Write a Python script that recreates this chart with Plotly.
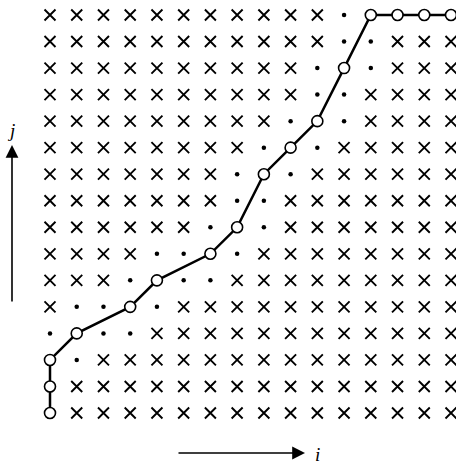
import plotly.graph_objects as go

# Grid size (columns i, rows j)
n_i = 16
n_j = 16

# Warping path (i, j)
path_i = [1, 1, 1, 2, 4, 5, 7, 8, 9, 10, 11, 12, 13, 14, 15, 16]
path_j = [1, 2, 3, 4, 5, 6, 7, 8, 10, 11, 12, 14, 16, 16, 16, 16]

# Search band per row j = 1..16: first and last column marked (dot or circle)
band_start = [1, 1, 1, 1, 2, 4, 5, 7, 8, 8, 9, 10, 11, 11, 12, 12]
band_end   = [1, 1, 2, 4, 5, 7, 8, 9, 9, 10, 11, 12, 12, 13, 13, 16]

on_path = set(zip(path_i, path_j))
dot_i, dot_j, cross_i, cross_j = [], [], [], []
for j in range(1, n_j + 1):
    for i in range(1, n_i + 1):
        if (i, j) in on_path:
            continue
        if band_start[j - 1] <= i <= band_end[j - 1]:
            dot_i.append(i); dot_j.append(j)
        else:
            cross_i.append(i); cross_j.append(j)

W, H = 456, 465
x0_px, x1_px = 50, 451   # pixel of column 1 and 16
ytop_px, ybot_px = 15, 413  # pixel of row 16 and row 1
sx = (x1_px - x0_px) / (n_i - 1)
sy = (ybot_px - ytop_px) / (n_j - 1)
xr = [1 - x0_px / sx, 1 + (W - x0_px) / sx]
yr = [1 - (H - ybot_px) / sy, n_j + ytop_px / sy]

fig = go.Figure()
fig.add_trace(go.Scatter(x=cross_i, y=cross_j, mode="markers",
                         marker=dict(symbol="x-thin", size=11,
                                     line=dict(width=1.9, color="black")),
                         hoverinfo="skip"))
fig.add_trace(go.Scatter(x=dot_i, y=dot_j, mode="markers",
                         marker=dict(symbol="circle", size=4.5, color="black"),
                         hoverinfo="skip"))
fig.add_trace(go.Scatter(x=path_i, y=path_j, mode="lines+markers",
                         line=dict(color="black", width=2.5),
                         marker=dict(symbol="circle", size=11, color="white",
                                     line=dict(width=1.6, color="black")),
                         hoverinfo="skip"))

# axis arrows
fig.add_annotation(xref="paper", yref="paper", x=12 / W, y=1 - 145 / H,
                   ax=0, ay=158, showarrow=True, arrowhead=2, arrowsize=1.6,
                   arrowwidth=1.6, arrowcolor="black", text="")
fig.add_annotation(xref="paper", yref="paper", x=305 / W, y=1 - 453 / H,
                   ax=-128, ay=0, showarrow=True, arrowhead=2, arrowsize=1.6,
                   arrowwidth=1.6, arrowcolor="black", text="")
fig.add_annotation(xref="paper", yref="paper", x=11 / W, y=1 - 130 / H,
                   xanchor="center", yanchor="middle",
                   text="<i>j</i>", showarrow=False,
                   font=dict(family="Liberation Serif", size=19, color="black"))
fig.add_annotation(xref="paper", yref="paper", x=317 / W, y=1 - 454 / H,
                   xanchor="center", yanchor="middle",
                   text="<i>i</i>", showarrow=False,
                   font=dict(family="Liberation Serif", size=19, color="black"))

fig.update_layout(width=W, height=H, margin=dict(l=0, r=0, t=0, b=0),
                  paper_bgcolor="white", plot_bgcolor="white", showlegend=False,
                  xaxis=dict(range=xr, visible=False, fixedrange=True),
                  yaxis=dict(range=yr, visible=False, fixedrange=True))
fig.write_html("out.html", config={"displayModeBar": False},
               post_script="document.body.style.margin='0';document.body.style.overflow='hidden';")
